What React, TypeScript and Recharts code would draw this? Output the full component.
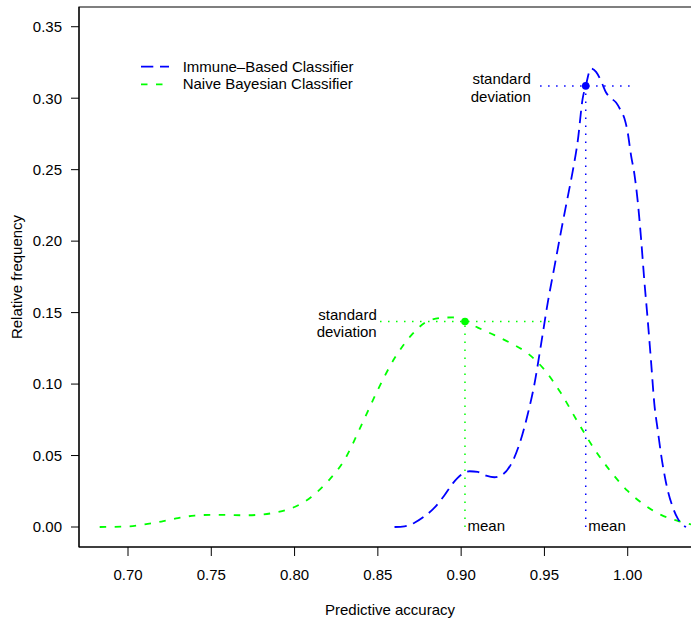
import React from "react";
import { ComposedChart, Line, XAxis, YAxis, ReferenceLine, ReferenceDot, ReferenceArea, Label } from "recharts";

const FONT = '"Liberation Sans", Arial, Helvetica, sans-serif';
const BLUE = "#0000ff";
const GREEN = "#00ff00";
const INK = "#000";

const xTicks = [0.7, 0.75, 0.8, 0.85, 0.9, 0.95, 1.0];
const yTicks = [0, 0.05, 0.1, 0.15, 0.2, 0.25, 0.3, 0.35];

// Immune-based classifier density
const immuneX = [
    0.86, 0.866, 0.872, 0.878, 0.884, 0.89, 0.895, 0.9, 0.905, 0.91, 0.915, 0.92, 0.925, 0.93, 0.935, 0.94, 0.944,
    0.948, 0.952, 0.956, 0.96, 0.964, 0.967, 0.97, 0.973, 0.9748, 0.978, 0.981, 0.984, 0.987, 0.99, 0.993, 0.996,
    0.998, 1.0, 1.002, 1.004, 1.006, 1.008, 1.01, 1.012, 1.014, 1.016, 1.018, 1.02, 1.023, 1.027, 1.03, 1.033, 1.035,
];
const immuneY = [
    0.0, 0.0005, 0.003, 0.0075, 0.0135, 0.0222, 0.0305, 0.0365, 0.039, 0.0385, 0.036, 0.0348, 0.0368, 0.044, 0.058,
    0.079, 0.1, 0.128, 0.157, 0.182, 0.207, 0.231, 0.249, 0.27, 0.3, 0.3086, 0.3207, 0.3184, 0.312, 0.304, 0.3, 0.297,
    0.291, 0.286, 0.276, 0.26, 0.247, 0.228, 0.202, 0.172, 0.145, 0.116, 0.086, 0.068, 0.051, 0.031, 0.014, 0.006,
    0.0015, 0.0,
];

// Naive Bayesian classifier density
const bayesX = [
    0.683, 0.69, 0.7, 0.71, 0.72, 0.73, 0.74, 0.75, 0.76, 0.77, 0.78, 0.79, 0.8, 0.81, 0.82, 0.83, 0.84, 0.85, 0.86,
    0.87, 0.88, 0.89, 0.895, 0.9023, 0.91, 0.92, 0.93, 0.94, 0.95, 0.96, 0.97, 0.98, 0.99, 1.0, 1.01, 1.02, 1.03, 1.04,
];
const bayesY = [
    0.0, 0.0001, 0.0004, 0.0018, 0.0038, 0.0062, 0.008, 0.0085, 0.0084, 0.0082, 0.0087, 0.0105, 0.014, 0.021, 0.032,
    0.047, 0.071, 0.096, 0.118, 0.134, 0.144, 0.1465, 0.1466, 0.1438, 0.1395, 0.1342, 0.1285, 0.1215, 0.11, 0.0935,
    0.0735, 0.0545, 0.0385, 0.0252, 0.0155, 0.0085, 0.0043, 0.0013,
];

const seriesNames = ["Immune\u2013Based Classifier", "Naive Bayesian Classifier"];
const meanValues = [0.9748, 0.9023];
const sdValues = [0.0274, 0.051];
const densityAtMean = [0.3086, 0.1438];

const immuneData = immuneX.map((x, i) => ({ x, y: immuneY[i] }));
const bayesData = bayesX.map((x, i) => ({ x, y: bayesY[i] }));

const colors = [BLUE, GREEN];
const dashes = ["12.3 6.7", "6.5 8.5"];
const sdLabelDx = [-9.3, -3.3];

const X_DOMAIN: [number, number] = [0.67058, 1.044];
const Y_DOMAIN: [number, number] = [-0.01399, 0.3638];

const textStyle = { fontFamily: FONT, fontSize: 15, fill: INK };

const meanLabel = (props: any) => {
    const { x, y, width, height } = props.viewBox;
    return (
        <text x={x + width / 2 + 2.5} y={y + height / 2 + 3.7} {...textStyle}>
            mean
        </text>
    );
};

const sdLabel = (dx: number) => (props: any) => {
    const { x, y, width, height } = props.viewBox;
    const cx = x + width / 2 + dx;
    const cy = y + height / 2;
    return (
        <text textAnchor="end" {...textStyle}>
            <tspan x={cx} y={cy - 1.5}>standard</tspan>
            <tspan x={cx} y={cy + 16}>deviation</tspan>
        </text>
    );
};

const xTitle = (props: any) => {
    const { x, y, width } = props.viewBox;
    return (
        <text x={x + width / 2} y={y + 68} textAnchor="middle" {...textStyle}>
            Predictive accuracy
        </text>
    );
};

const yTitle = (props: any) => {
    const { y, height } = props.viewBox;
    const cx = 22;
    const cy = y + height / 2;
    return (
        <text x={cx} y={cy} textAnchor="middle" transform={`rotate(-90, ${cx}, ${cy})`} {...textStyle}>
            Relative frequency
        </text>
    );
};

const LegendBox: React.FC = () => (
    <svg width={691} height={621} style={{ position: "absolute", left: 0, top: 0, pointerEvents: "none" }}>
        {seriesNames.map((name, i) => {
            const cy = 66.7 + i * 17.6;
            return (
                <g key={name}>
                    <line x1={141} x2={169} y1={cy} y2={cy} stroke={colors[i]} strokeWidth={1.8} strokeDasharray={dashes[i]} />
                    <text x={182.7} y={cy + 4.9} {...textStyle}>
                        {name}
                    </text>
                </g>
            );
        })}
    </svg>
);

export default function App() {
    const series = [immuneData, bayesData];
    return (
        <div style={{ position: "absolute", left: 0, top: 0, width: 691, height: 621, overflow: "hidden", background: "#fff" }}>
            <ComposedChart width={702} height={621} margin={{ top: 7, right: 1, bottom: 0, left: 0 }}>
                <XAxis
                    type="number"
                    dataKey="x"
                    domain={X_DOMAIN}
                    allowDataOverflow
                    ticks={xTicks}
                    interval={0}
                    tickFormatter={(v: number) => v.toFixed(2)}
                    height={74}
                    tickSize={9}
                    tickMargin={13.7}
                    stroke={INK}
                    tick={{ ...textStyle }}
                >
                    <Label content={xTitle} />
                </XAxis>
                <YAxis
                    type="number"
                    domain={Y_DOMAIN}
                    allowDataOverflow
                    ticks={yTicks}
                    interval={0}
                    tickFormatter={(v: number) => v.toFixed(2)}
                    width={79}
                    tickSize={8}
                    tickMargin={9}
                    stroke={INK}
                    tick={{ ...textStyle }}
                >
                    <Label content={yTitle} />
                </YAxis>
                <ReferenceArea
                    x1={X_DOMAIN[0]}
                    x2={X_DOMAIN[1]}
                    y1={Y_DOMAIN[0]}
                    y2={Y_DOMAIN[1]}
                    fill="none"
                    fillOpacity={0}
                    stroke={INK}
                    strokeWidth={1.2}
                />
                <Line
                    data={bayesData}
                    dataKey="y"
                    type="monotone"
                    stroke={GREEN}
                    strokeWidth={1.8}
                    strokeDasharray={dashes[1]}
                    dot={false}
                    activeDot={false}
                    isAnimationActive={false}
                />
                <Line
                    data={immuneData}
                    dataKey="y"
                    type="monotone"
                    stroke={BLUE}
                    strokeWidth={1.8}
                    strokeDasharray={dashes[0]}
                    dot={false}
                    activeDot={false}
                    isAnimationActive={false}
                />
                {series.map((_, i) => (
                    <ReferenceLine
                        key={`v${i}`}
                        segment={[
                            { x: meanValues[i], y: 0 },
                            { x: meanValues[i], y: densityAtMean[i] },
                        ]}
                        stroke={colors[i]}
                        strokeWidth={1.5}
                        strokeDasharray="1.5 6.5"
                    />
                ))}
                {series.map((_, i) => (
                    <ReferenceLine
                        key={`h${i}`}
                        segment={[
                            { x: meanValues[i] - sdValues[i], y: densityAtMean[i] },
                            { x: meanValues[i] + sdValues[i], y: densityAtMean[i] },
                        ]}
                        stroke={colors[i]}
                        strokeWidth={1.5}
                        strokeDasharray="1.5 6.5"
                    />
                ))}
                {series.map((_, i) => (
                    <ReferenceDot
                        key={`d${i}`}
                        x={meanValues[i]}
                        y={densityAtMean[i]}
                        r={3.8}
                        fill={colors[i]}
                        stroke="none"
                    />
                ))}
                {series.map((_, i) => (
                    <ReferenceDot
                        key={`m${i}`}
                        x={meanValues[i]}
                        y={0}
                        r={0}
                        fill="none"
                        stroke="none"
                        label={<Label content={meanLabel} />}
                    />
                ))}
                {series.map((_, i) => (
                    <ReferenceDot
                        key={`s${i}`}
                        x={meanValues[i] - sdValues[i]}
                        y={densityAtMean[i]}
                        r={0}
                        fill="none"
                        stroke="none"
                        label={<Label content={sdLabel(sdLabelDx[i])} />}
                    />
                ))}
            </ComposedChart>
            <LegendBox />
        </div>
    );
}
